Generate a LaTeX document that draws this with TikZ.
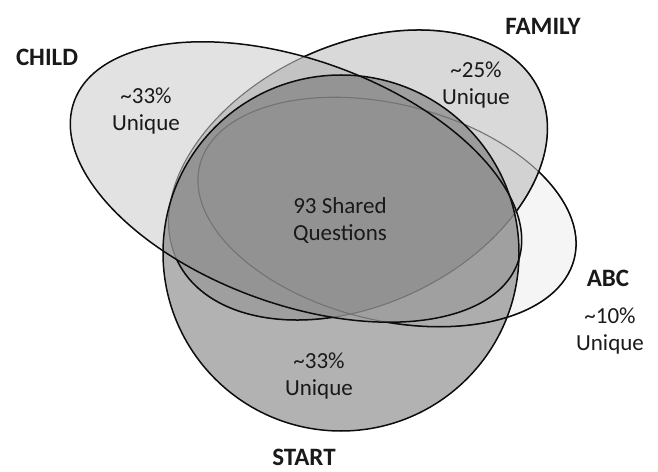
\documentclass[tikz,border=0pt]{standalone}
\usepackage{fontspec}
\setmainfont{Carlito}
\definecolor{abcgray}{gray}{0.61}
\definecolor{familygray}{gray}{0.50}
\definecolor{startgray}{gray}{0.40}
\definecolor{childgray}{gray}{0.43}
\tikzset{
  abc set/.style={
    rotate around={-14:(387,259)},
    insert path={(387,259) ellipse [x radius=193, y radius=108]}
  },
  family set/.style={
    rotate around={25:(358,296)},
    insert path={(358,296) ellipse [x radius=200, y radius=130]}
  },
  start set/.style={
    insert path={(341,218) circle [radius=178]}
  },
  child set/.style={
    rotate around={-20:(296,289)},
    insert path={(296,289) ellipse [x radius=236, y radius=122]}
  },
  set line/.style={line width=1.5pt, black!95},
  hidden line/.style={line width=1.1pt, black!55},
  set name/.style={font=\bfseries\fontsize{25}{30}\selectfont, text=black!90},
  set note/.style={font=\fontsize{23}{27}\selectfont, align=center, text=black!90}
}

\begin{document}
\begin{tikzpicture}[x=1pt, y=1pt]
\useasboundingbox (0,0) rectangle (658,471);

% fills, back to front
\fill[abcgray, fill opacity=0.1, abc set];
\fill[familygray, fill opacity=0.3, family set];
\fill[startgray, fill opacity=0.5, start set];
\fill[childgray, fill opacity=0.2, child set];

% outlines that sit under other sets
\draw[hidden line, abc set];
\draw[hidden line, family set];
\begin{scope}[even odd rule]
  \clip[child set] (-400,-400) rectangle (1100,900);
  \draw[set line, family set];
  \clip[family set] (-400,-400) rectangle (1100,900);
  \draw[set line, abc set];
\end{scope}
\draw[set line, start set];
\draw[set line, child set];

% names
\node[set name] (child) at (47,414) {CHILD};
\node[set name] (family) at (543,445) {FAMILY};
\node[set name] (abc) at (608,193) {ABC};
\node[set name] (start) at (304,14) {START};

% shares
\node[set note] (childnote) at (146,360) {\textasciitilde33\%\\Unique};
\node[set note] (familynote) at (476,386) {\textasciitilde25\%\\Unique};
\node[set note] (shared) at (340,250) {93 Shared\\Questions};
\node[set note] (abcnote) at (610,140) {\textasciitilde10\%\\Unique};
\node[set note] (startnote) at (319,95) {\textasciitilde33\%\\Unique};
\end{tikzpicture}
\end{document}
